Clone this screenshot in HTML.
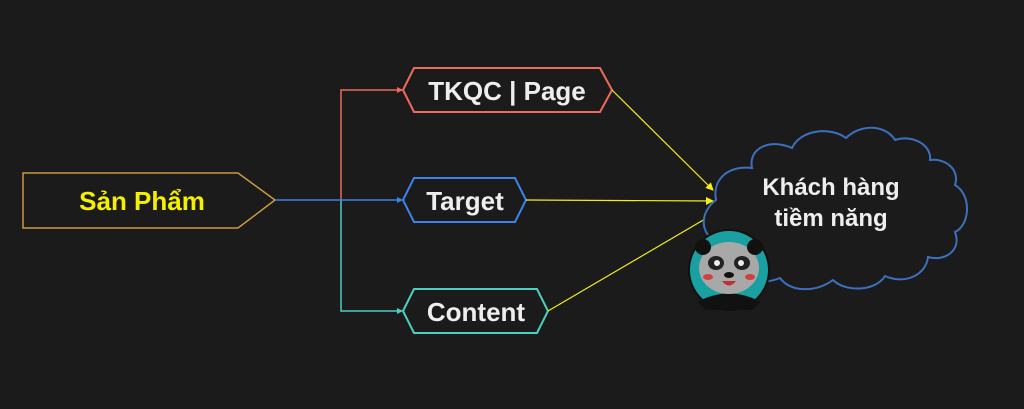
<!DOCTYPE html>
<html><head><meta charset="utf-8"><style>
html,body{margin:0;padding:0;background:#1b1b1b;}
svg{display:block}
text{font-family:"Liberation Sans",sans-serif;font-weight:bold;}
</style></head><body>
<svg width="1024" height="409" viewBox="0 0 1024 409">
<rect width="1024" height="409" fill="#1b1b1b"/>
<defs>
<marker id="ay" markerWidth="8" markerHeight="8" refX="7" refY="4" orient="auto" markerUnits="userSpaceOnUse"><path d="M0,0L8,4L0,8z" fill="#f2ee1a"/></marker>
<marker id="ar" markerWidth="6" markerHeight="6" refX="5" refY="3" orient="auto" markerUnits="userSpaceOnUse"><path d="M0,0L6,3L0,6z" fill="#ee6a5c"/></marker>
<marker id="ab" markerWidth="6" markerHeight="6" refX="5" refY="3" orient="auto" markerUnits="userSpaceOnUse"><path d="M0,0L6,3L0,6z" fill="#3d82ea"/></marker>
<marker id="ac" markerWidth="6" markerHeight="6" refX="5" refY="3" orient="auto" markerUnits="userSpaceOnUse"><path d="M0,0L6,3L0,6z" fill="#4dcfc0"/></marker>
</defs>
<path d="M23,173H238L275,200L238,228H23Z" fill="none" stroke="#c99a45" stroke-width="1.5"/>
<text x="142" y="210" fill="#f5f000" font-size="26" text-anchor="middle">Sản Phẩm</text>
<path d="M341,200V90H402" fill="none" stroke="#ee6a5c" stroke-width="1.5" marker-end="url(#ar)"/>
<path d="M341,200V311H402" fill="none" stroke="#4dcfc0" stroke-width="1.5" marker-end="url(#ac)"/>
<path d="M275,200H402" fill="none" stroke="#3d82ea" stroke-width="1.5" marker-end="url(#ab)"/>
<path d="M403,90L414,68H600L612,90L600,112H414Z" fill="#1b1b1b" stroke="#ee6a5c" stroke-width="2"/>
<text x="507" y="100" fill="#eeeeee" font-size="26" text-anchor="middle">TKQC | Page</text>
<path d="M403,200L414,178H515L526,200L515,222H414Z" fill="#1b1b1b" stroke="#3d82ea" stroke-width="2"/>
<text x="465" y="210" fill="#eeeeee" font-size="26" text-anchor="middle">Target</text>
<path d="M403,311L414,289H537L548,311L537,333H414Z" fill="#1b1b1b" stroke="#4dcfc0" stroke-width="2"/>
<text x="476" y="321" fill="#eeeeee" font-size="26" text-anchor="middle">Content</text>
<line x1="612" y1="90" x2="713" y2="190" stroke="#f2ee1a" stroke-width="1.2" marker-end="url(#ay)"/>
<line x1="526" y1="200" x2="713" y2="201" stroke="#f2ee1a" stroke-width="1.2" marker-end="url(#ay)"/>
<line x1="548" y1="311" x2="717" y2="212" stroke="#f2ee1a" stroke-width="1.2" marker-end="url(#ay)"/>
<path d="M716,200 C712,178 730,165 752,168 C748,148 770,138 792,148 C800,130 830,126 846,138 C860,124 885,124 895,140 C912,134 932,145 930,160 C946,158 960,170 955,185 C972,195 970,225 955,232 C962,250 945,262 928,257 C926,275 905,285 885,276 C875,292 845,292 833,280 C815,293 790,292 780,278 C760,286 740,280 738,266 C720,266 708,254 714,240 C700,232 700,212 716,200Z" fill="#1b1b1b" stroke="#3d6fbf" stroke-width="2"/>
<text x="831" y="195" fill="#eeeeee" font-size="24" text-anchor="middle">Khách hàng</text>
<text x="831" y="226" fill="#eeeeee" font-size="24" text-anchor="middle">tiềm năng</text>
<circle cx="729" cy="270" r="40" fill="#1aa0a0" stroke="#111" stroke-width="2"/>
<path d="M697,302 Q729,285 761,302 L752,310 H706Z" fill="#111"/>
<ellipse cx="729" cy="268" rx="30" ry="26" fill="#a8a8a8"/>
<circle cx="703" cy="247" r="8" fill="#111"/><circle cx="755" cy="247" r="8" fill="#111"/>
<ellipse cx="716" cy="263" rx="8" ry="7" fill="#222"/><ellipse cx="742" cy="263" rx="8" ry="7" fill="#222"/>
<circle cx="717" cy="263" r="3" fill="#eee"/><circle cx="741" cy="263" r="3" fill="#eee"/>
<ellipse cx="729" cy="275" rx="5" ry="3" fill="#111"/>
<path d="M722,281 Q729,290 736,281Z" fill="#c03030"/>
<ellipse cx="708" cy="277" rx="5" ry="3" fill="#d04040"/><ellipse cx="750" cy="277" rx="5" ry="3" fill="#d04040"/>
</svg>
</body></html>
